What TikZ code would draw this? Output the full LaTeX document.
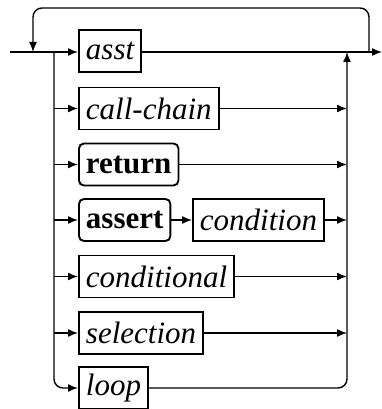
\documentclass[tikz,border=0pt]{standalone}
\usepackage{fontspec}
\setmainfont{Liberation Serif}
\usetikzlibrary{arrows.meta}
\begin{document}
\begin{tikzpicture}[x=1pt,y=-1pt,
  line width=1.4pt,
  tip/.style={-{Latex[length=10pt,width=8pt]}},
  nt/.style={draw,line width=1.9pt,anchor=west,inner xsep=7pt,inner ysep=0pt,
    minimum height=42pt,font=\fontsize{31}{36}\selectfont\itshape},
  kw/.style={nt,rounded corners=5pt,font=\fontsize{31}{36}\selectfont\bfseries}]
\useasboundingbox (0,0) rectangle (382,409);
\coordinate (start) at (10,52);
\coordinate (fin) at (382,52);
\coordinate (lb) at (33,52);
\coordinate (rb) at (369,52);
\coordinate (L) at (54,52);
\coordinate (R) at (347,52);
\node[nt] (asst) at (78,51) {asst};
\node[nt] (call) at (78,108.5) {call-chain};
\node[kw] (ret) at (78,164.5) {return};
\node[kw] (assert) at (78,220) {assert};
\node[nt] (cond) at (192,220) {condition};
\node[nt] (condl) at (78,276.5) {conditional};
\node[nt] (sel) at (78,333) {selection};
\node[nt] (loop) at (78,388) {loop};
% main line
\draw[tip] (start) -- (asst.west |- start);
\draw[tip] (asst.east |- fin) -- (fin);
% loop back
\draw[tip,rounded corners=9pt] (rb) -- (rb |- 0,8) -- (lb |- 0,8) -- (lb);
% left branch
\draw[tip,rounded corners=9pt] (L) -- (L |- loop.west) -- (loop.west);
\foreach \n in {call,ret,assert,condl,sel}
  \draw[tip] (L |- \n.west) -- (\n.west);
\draw[tip] (assert.east) -- (cond.west);
% right branch
\foreach \n in {call,ret,cond,condl,sel}
  \draw[tip] (\n.east) -- (R |- \n.east);
\draw[tip,rounded corners=9pt] (loop.east) -- (R |- loop.east) -- (R);
\end{tikzpicture}
\end{document}
